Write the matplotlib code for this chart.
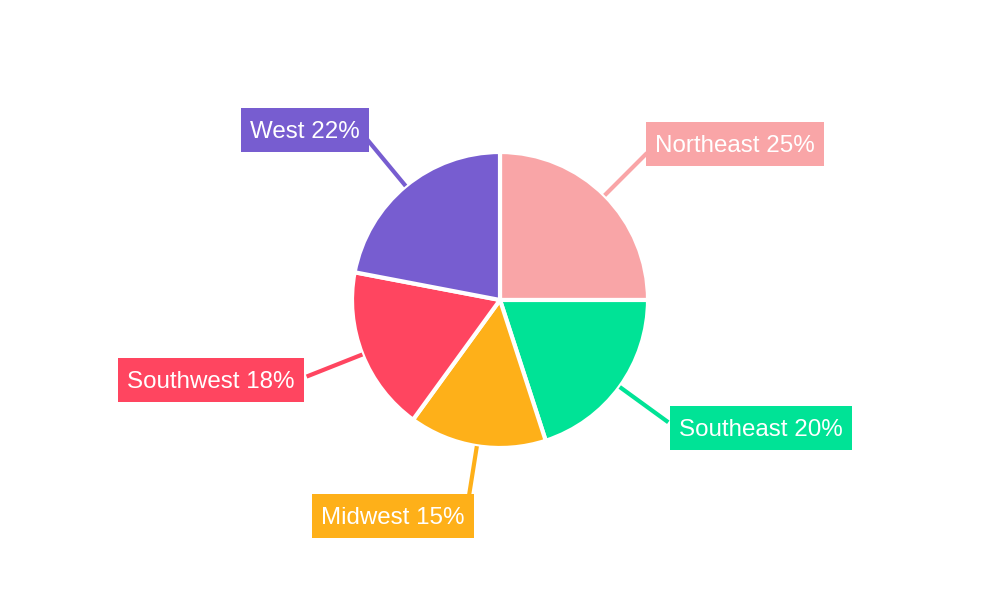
import numpy as np
import matplotlib
matplotlib.use("Agg")
import matplotlib.pyplot as plt
from matplotlib.patches import Rectangle

regions = ["Northeast", "Southeast", "Midwest", "Southwest", "West"]
shares = [25, 20, 15, 18, 22]
colors = ["#F9A5A7", "#00E396", "#FEB019", "#FF4560", "#775DD0"]

# label box centers (pixel coords, y down) -- layout only
label_centers = [(735, 144), (761, 428), (393, 516), (211, 380), (305, 130)]

W, H = 1000, 600
fig = plt.figure(figsize=(10, 6), dpi=100)
ax = fig.add_axes([0, 0, 1, 1])

cx, cy, R = 500, 300, 148
wedges, _ = ax.pie(shares, colors=colors, startangle=90, counterclock=False,
                   center=(cx, cy), radius=R, frame=True,
                   wedgeprops=dict(edgecolor="white", linewidth=3))
ax.set_xlim(0, W)
ax.set_ylim(0, H)
ax.set_aspect("equal")
ax.axis("off")

fig.canvas.draw()
renderer = fig.canvas.get_renderer()
for w, name, val, col, (lx, ly) in zip(wedges, regions, shares, colors, label_centers):
    ang = np.deg2rad((w.theta1 + w.theta2) / 2)
    x0, y0 = cx + R * np.cos(ang), cy + R * np.sin(ang)
    x1, y1 = cx + 208 * np.cos(ang), cy + 208 * np.sin(ang)
    ax.plot([x0, x1], [y0, y1], color=col, lw=3, solid_capstyle="butt", zorder=1)
    t = ax.text(lx, H - ly - 2.5, f"{name} {val}%", color="white", fontsize=17.4,
                family="Liberation Sans", ha="center", va="center", zorder=4)
    bb = t.get_window_extent(renderer=renderer)
    bw = bb.width + 18
    bh = 44
    ax.add_patch(Rectangle((lx - bw / 2, H - ly - bh / 2), bw, bh,
                           facecolor=col, edgecolor="none", zorder=3))

fig.savefig("out.png", dpi=100, facecolor="white")
